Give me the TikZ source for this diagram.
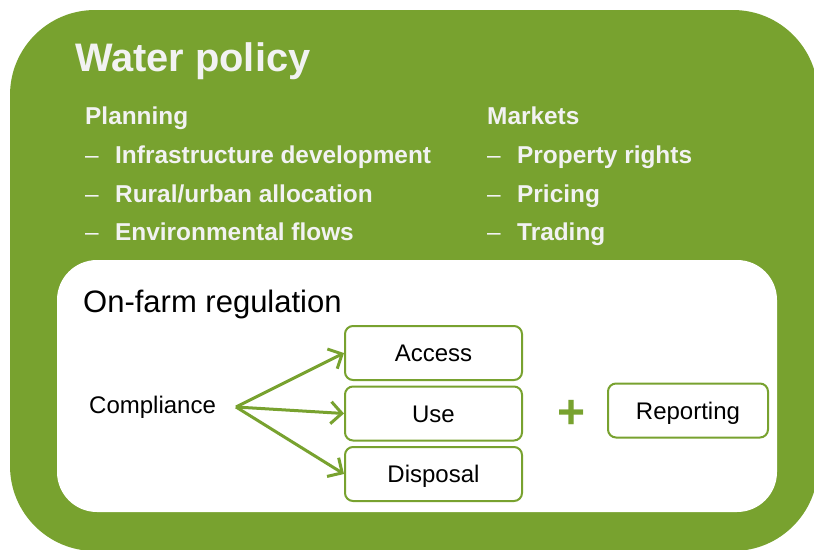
\documentclass[tikz,border=0pt]{standalone}
\usepackage{fontspec}
\setmainfont{Liberation Sans}
\usetikzlibrary{arrows.meta}
\definecolor{leaf}{HTML}{78A22F}
\definecolor{paper}{HTML}{F2F2F2}
\newcommand{\dashmark}{\makebox[30pt][l]{\mdseries\textendash}}
\tikzstyle{frame} = [fill=leaf, rounded corners=85pt]
\tikzstyle{card} = [fill=white, rounded corners=40pt]
\tikzstyle{heading} = [anchor=base west, inner sep=0pt, text=paper, font=\fontsize{39.8}{47}\selectfont\bfseries]
\tikzstyle{head} = [anchor=base west, inner sep=0pt, text=paper, font=\fontsize{24.4}{29}\selectfont\bfseries]
\tikzstyle{plain} = [anchor=base west, inner sep=0pt, text=black, font=\fontsize{24}{29}\selectfont]
\tikzstyle{process} = [rectangle, rounded corners=8pt, minimum width=177pt, minimum height=54pt, text height=17pt, text depth=0pt, text centered, draw=leaf, line width=2pt, font=\fontsize{24}{29}\selectfont]
\tikzstyle{plus} = [inner sep=0pt, text=leaf, font=\fontsize{48}{48}\selectfont\bfseries]
\tikzstyle{arrow} = [draw=leaf, line width=3pt, -{Straight Barb[length=11pt,width=22pt]}]

\begin{document}
\begin{tikzpicture}[x=1pt, y=-1pt, node distance=60.5pt]
\useasboundingbox (0,0) rectangle (814,549);
\fill [frame] (10,10) rectangle (818,551);
\fill [card] (57,260) rectangle (777,512);

\node (n1) [heading] at (75,71) {Water policy};
\node (n2) [head] at (85,124) {Planning};
\node (n3) [head] at (85,163) {\dashmark Infrastructure development};
\node (n4) [head] at (85,202) {\dashmark Rural/urban allocation};
\node (n5) [head] at (85,240) {\dashmark Environmental flows};
\node (n6) [head] at (487,124) {Markets};
\node (n7) [head] at (487,163) {\dashmark Property rights};
\node (n8) [head] at (487,202) {\dashmark Pricing};
\node (n9) [head] at (487,240) {\dashmark Trading};

\node (n10) [plain, font=\fontsize{31}{37}\selectfont] at (83,312) {On-farm regulation};
\node (n11) [plain] at (89,413) {Compliance};
\node (n12) [process] at (433.5,353) {Access};
\node (n13) [process, below of=n12] {Use};
\node (n14) [process, below of=n13] {Disposal};
\node (n15) [process, right of=n13, xshift=194pt, yshift=3pt, minimum width=160pt] {Reporting};
\node (n16) [plus] at (571.5,414.5) {+};

\coordinate (hub) at (236,407);
\draw [arrow] (hub) -- (n12.west);
\draw [arrow] (hub) -- (n13.west);
\draw [arrow] (hub) -- (n14.west);

\end{tikzpicture}
\end{document}
